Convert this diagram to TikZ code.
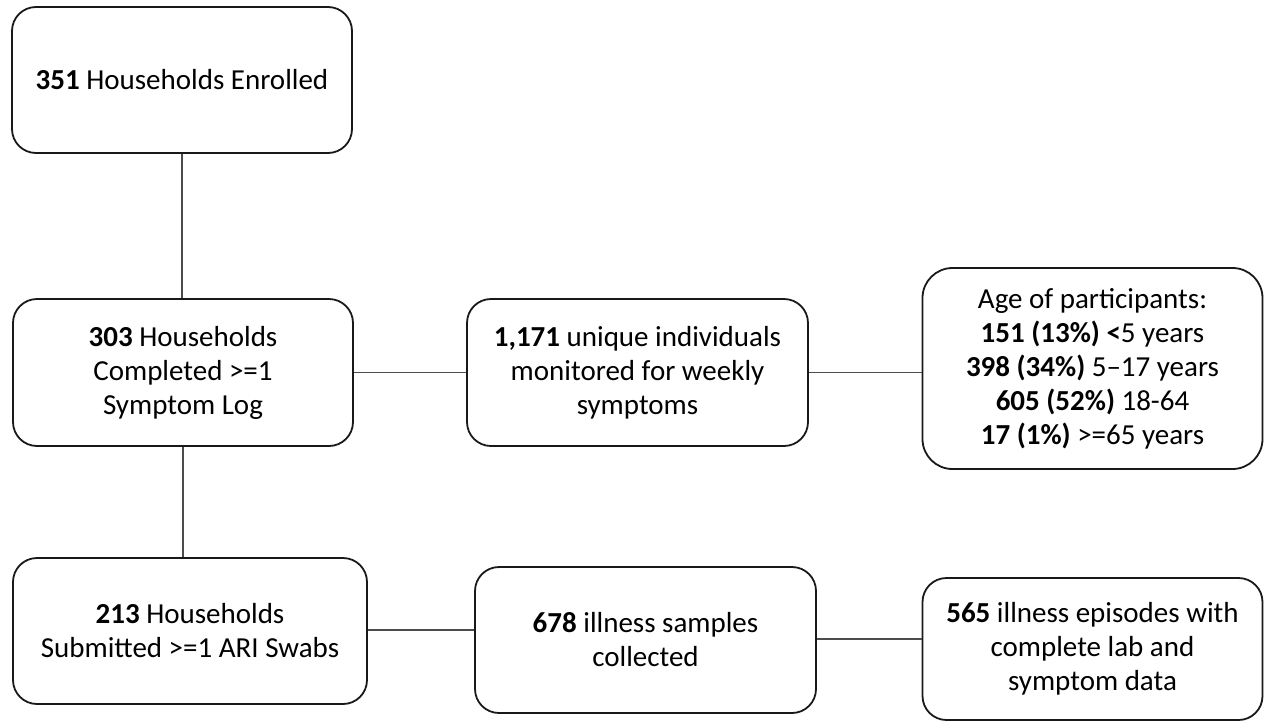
\documentclass[tikz,border=0pt]{standalone}
\usepackage{fontspec}
\setmainfont{Carlito}
\begin{document}
\begin{tikzpicture}[x=1pt,y=-1pt,
  box/.style={draw=black!90, line width=1.8pt, rounded corners=24pt, align=center,
    inner sep=0pt, font=\fontsize{29}{34}\selectfont},
  link/.style={draw=black!70, line width=1.2pt}]
\useasboundingbox (0,0) rectangle (1264,723);
\node[box, minimum width=340pt, minimum height=146pt] (b1) at (182,80) {\textbf{351} Households Enrolled};
\node[box, minimum width=340pt, minimum height=147pt] (b2) at (183,372.5) {\textbf{303} Households\\Completed >=1\\Symptom Log};
\node[box, minimum width=341pt, minimum height=147pt] (b3) at (637.5,372.5) {\textbf{1,171} unique individuals\\monitored for weekly\\symptoms};
\node[box, minimum width=340pt, minimum height=201pt, rounded corners=30pt] (b4) at (1092.5,368.5) {Age of participants:\\\textbf{151 (13\%) <}5 years\\\textbf{398 (34\%)} 5–17 years\\\textbf{605 (52\%)} 18-64\\\textbf{17 (1\%)} >=65 years};
\node[box, minimum width=354pt, minimum height=146pt] (b5) at (190,631) {\textbf{213} Households\\Submitted >=1 ARI Swabs};
\node[box, minimum width=341pt, minimum height=146pt] (b6) at (645.5,640) {\textbf{678} illness samples\\collected};
\node[box, minimum width=340pt, minimum height=142pt] (b7) at (1092.5,649) {\textbf{565} illness episodes with\\complete lab and\\symptom data};
\draw[link] (b1.south) -- (b1.south |- b2.north);
\draw[link] (b2.south) -- (b2.south |- b5.north);
\draw[link] (b2.east) -- (b3.west);
\draw[link] (b3.east) -- (b3.east -| b4.west);
\draw[link] ([yshift=1pt]b5.east) -- ([yshift=1pt]b5.east -| b6.west);
\draw[link] ([yshift=1pt]b6.east) -- ([yshift=1pt]b6.east -| b7.west);
\end{tikzpicture}
\end{document}
